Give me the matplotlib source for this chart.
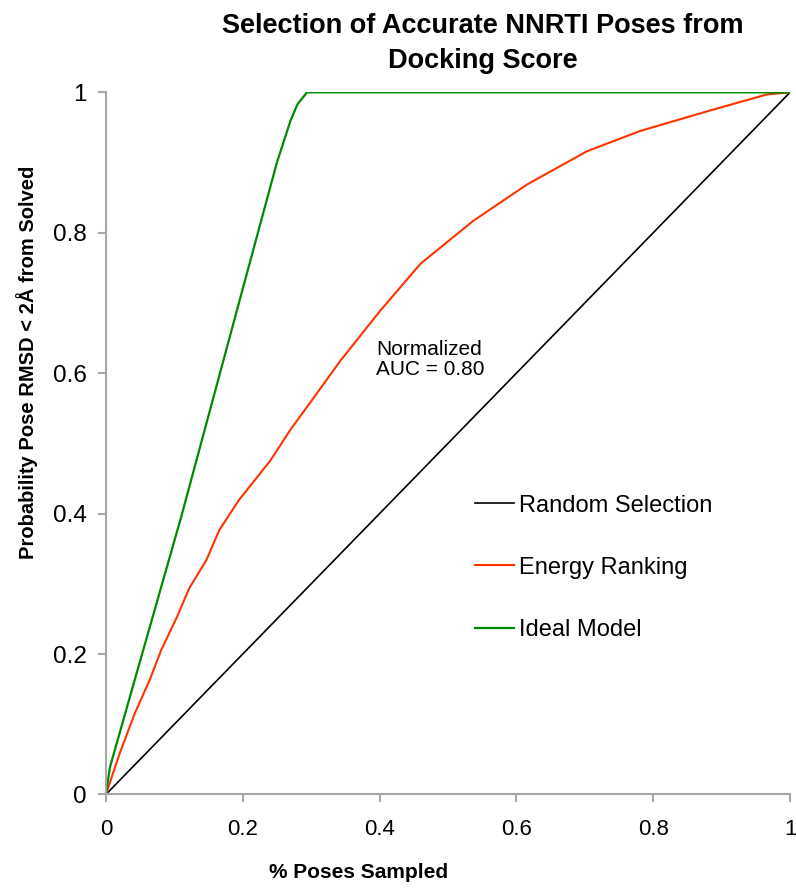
import matplotlib
matplotlib.use('Agg')
import matplotlib.pyplot as plt

# values
random_x = [0.0, 0.137, 0.3, 0.5, 0.7, 0.85, 1.0]
random_y = [0.0, 0.137, 0.3, 0.5, 0.7, 0.85, 1.0]

energy_x = [0.0, 0.02, 0.042, 0.064, 0.081, 0.104, 0.122, 0.147, 0.166, 0.195,
            0.24, 0.27, 0.3, 0.343, 0.401, 0.46, 0.537, 0.616, 0.703, 0.781,
            0.879, 0.966, 1.0]
energy_y = [0.0, 0.058, 0.115, 0.163, 0.206, 0.253, 0.294, 0.334, 0.377, 0.42,
            0.475, 0.52, 0.56, 0.618, 0.689, 0.756, 0.817, 0.869, 0.916, 0.945,
            0.973, 0.997, 1.0]

ideal_x = [0.0, 0.006, 0.05, 0.11, 0.2, 0.25, 0.27, 0.28, 0.294, 1.0]
ideal_y = [0.0, 0.039, 0.19, 0.395, 0.72, 0.9, 0.96, 0.983, 1.0, 1.0]

ticks = [0, 0.2, 0.4, 0.6, 0.8, 1]
tick_labels = ['0', '0.2', '0.4', '0.6', '0.8', '1']

GRAY = '#a6a6a6'

plt.rcParams['font.family'] = ['Liberation Sans', 'DejaVu Sans']

fig = plt.figure(figsize=(7.96, 8.88), dpi=100)
ax = fig.add_axes([0.133, 0.1053, 0.8595, 0.7907])

ax.plot(random_x, random_y, color='black', linewidth=1.2, label='Random Selection')
ax.plot(energy_x, energy_y, color='#ff3300', linewidth=1.5, label='Energy Ranking')
ax.plot(ideal_x, ideal_y, color='#008a00', linewidth=1.6, label='Ideal Model')

ax.set_xlim(0, 1)
ax.set_ylim(0, 1)
ax.set_xticks(ticks)
ax.set_xticklabels(tick_labels, fontsize=16)
ax.set_yticks(ticks)
ax.set_yticklabels(tick_labels, fontsize=17.5)

for side in ['top', 'right']:
  ax.spines[side].set_visible(False)
for side in ['left', 'bottom']:
  ax.spines[side].set_color(GRAY)
  ax.spines[side].set_linewidth(1.5)
ax.tick_params(direction='out', length=6, width=1.5, color=GRAY, pad=8)
ax.tick_params(axis='x', pad=12)

fig.text(0.607, 0.951, 'Selection of Accurate NNRTI Poses from\nDocking Score',
         ha='center', va='center', fontsize=19.5, fontweight='bold',
         linespacing=1.45)
fig.text(0.45, 0.018, '% Poses Sampled', ha='center', va='center',
         fontsize=15, fontweight='bold')
fig.text(0.034, 0.592, 'Probability Pose RMSD < 2Å from Solved', ha='center', va='center',
         rotation=90, fontsize=14.5, fontweight='bold')

ax.text(0.395, 0.62, 'Normalized\nAUC = 0.80', fontsize=15, va='center', ha='left',
        linespacing=1.05)

ax.legend(loc='center left', bbox_to_anchor=(0.539, 0.323), frameon=False,
          fontsize=17, labelspacing=1.7, handlelength=1.65, handletextpad=0.22,
          borderpad=0, borderaxespad=0)

fig.savefig('out.png', dpi=100)
